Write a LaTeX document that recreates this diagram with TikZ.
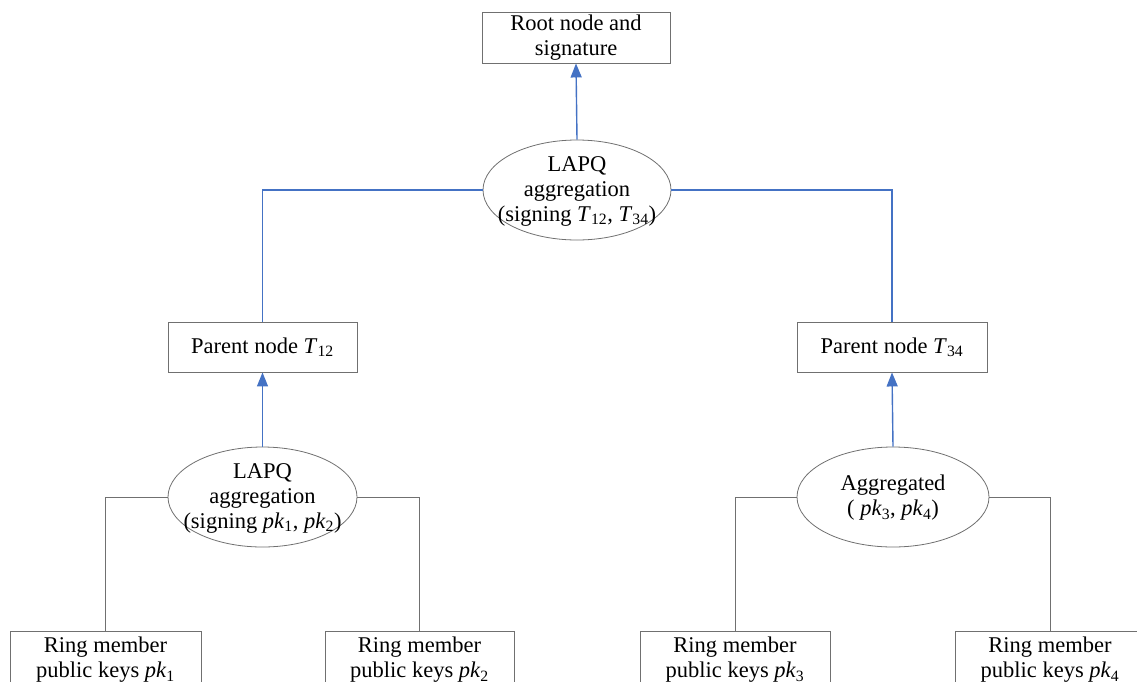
\documentclass[tikz,border=0pt]{standalone}
\usepackage{fontspec}
\setmainfont{Liberation Serif}
\usetikzlibrary{arrows.meta,shapes.geometric}
\definecolor{bl}{RGB}{68,114,196}
\definecolor{gr}{RGB}{112,112,112}
\tikzset{
  box/.style={draw=gr, line width=0.9pt, fill=white, align=center, inner sep=0pt,
    font=\fontsize{22.5}{25}\selectfont},
  ell/.style={ellipse, draw=gr, line width=0.8pt, fill=white, inner sep=0pt,
    minimum height=100pt},
  txt/.style={align=center, inner sep=0pt, font=\fontsize{22.5}{25}\selectfont},
  bline/.style={draw=bl, line width=1.4pt},
  arr/.style={bline, -{Triangle[width=11pt,length=14pt]}},
  gline/.style={draw=gr, line width=0.9pt}
}
\begin{document}
\begin{tikzpicture}[x=1pt,y=-1pt]
\useasboundingbox (0,0) rectangle (1137,681);
\clip (0,0) rectangle (1137,681);
% nodes
\node[box, minimum width=188pt, minimum height=51pt] (root) at (576,37.5) {Root node and\\signature};
\node[ell, minimum width=188pt] (te) at (577,190) {};
\node[txt] (tet) at (577,191) {LAPQ\\aggregation\\(signing \textit{T}\textsubscript{12}, \textit{T}\textsubscript{34})};
\node[box, minimum width=189pt, minimum height=50pt] (p12) at (262.5,347) {Parent node \textit{T}\textsubscript{12}};
\node[box, minimum width=190pt, minimum height=50pt] (p34) at (892,347) {Parent node \textit{T}\textsubscript{34}};
\node[ell, minimum width=189pt] (le) at (262.5,497) {};
\node[txt] (let) at (262.5,498) {LAPQ\\aggregation\\(signing \textit{pk}\textsubscript{1}, \textit{pk}\textsubscript{2})};
\node[ell, minimum width=192pt] (re) at (893,497) {};
\node[txt] (ret) at (893,498) {Aggregated\\( \textit{pk}\textsubscript{3}, \textit{pk}\textsubscript{4})};
\node[box, minimum width=191pt, minimum height=58pt] (r1) at (105.5,660) {Ring member\\public keys \textit{pk}\textsubscript{1}};
\node[box, minimum width=189pt, minimum height=58pt] (r2) at (419.5,660) {Ring member\\public keys \textit{pk}\textsubscript{2}};
\node[box, minimum width=190pt, minimum height=58pt] (r3) at (735,660) {Ring member\\public keys \textit{pk}\textsubscript{3}};
\node[box, minimum width=190pt, minimum height=58pt] (r4) at (1050,660) {Ring member\\public keys \textit{pk}\textsubscript{4}};
% connectors
\draw[arr] (te.north) -- (root.south);
\draw[bline] (te.west) -| (p12.north);
\draw[bline] (te.east) -| (p34.north);
\draw[arr] (le.north) -- (p12.south);
\draw[arr] (re.north) -- (p34.south);
\draw[gline] (le.west) -| (r1.north);
\draw[gline] (le.east) -| (r2.north);
\draw[gline] (re.west) -| (r3.north);
\draw[gline] (re.east) -| (r4.north);
\end{tikzpicture}
\end{document}
